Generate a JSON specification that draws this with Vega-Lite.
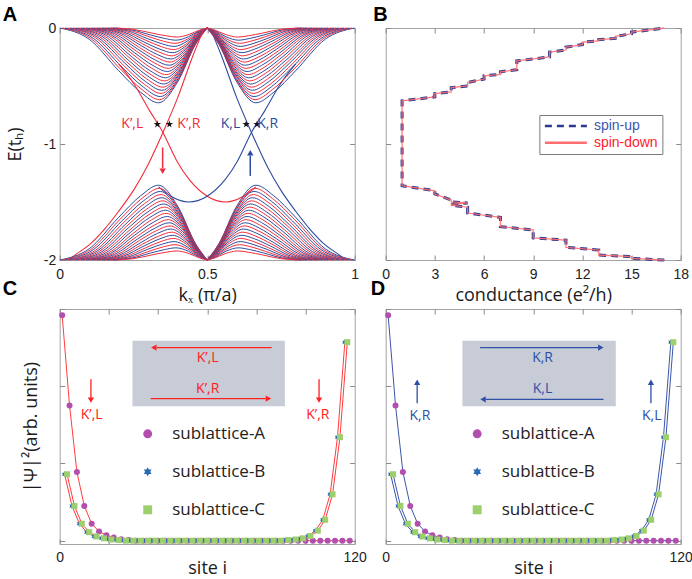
{
"$schema":"https://vega.github.io/schema/vega-lite/v6.json",
"background":"white",
"padding":{"left":1.7,"top":4,"right":0,"bottom":0},
"columns":2,
"spacing":{"row":49,"column":31},
"bounds":"flush",
"config":{
 "font":"Liberation Sans",
 "view":{"stroke":"#a3a3a3","strokeWidth":1},
 "axis":{"domain":false,"grid":false,"labelFlush":false,"tickColor":"#8a8a8a","tickSize":-5,"tickWidth":1,"labelFont":"Liberation Sans","labelFontSize":14,"labelColor":"#222","titleFont":"Open Sans","titleFontSize":18,"titleFontWeight":"normal","titleColor":"#1a1a1a"},
 "axisX":{"labelPadding":12,"titlePadding":5.5},
 "axisY":{"labelPadding":9,"titlePadding":19},
 "title":{"anchor":"start","frame":"group","font":"Liberation Sans","fontSize":20,"fontWeight":"bold","color":"#000","baseline":"alphabetic"}
},
"resolve":{"scale":{"color":"independent","shape":"independent"},"legend":{"color":"independent","shape":"independent"}},
"datasets":{
"bands":[
{"j":0,"c":"b","k":0,"E":0},{"j":0,"c":"b","k":0.1,"E":-0.097},{"j":0,"c":"b","k":0.2,"E":-0.368},{"j":0,"c":"b","k":0.275,"E":-0.555},{"j":0,"c":"b","k":0.335,"E":-0.645},{"j":0,"c":"b","k":0.4,"E":-0.464},{"j":0,"c":"b","k":0.46,"E":-0.142},{"j":0,"c":"b","k":0.5,"E":0},
{"j":1,"c":"r","k":0.009,"E":0},{"j":1,"c":"r","k":0.107,"E":-0.093},{"j":1,"c":"r","k":0.205,"E":-0.352},{"j":1,"c":"r","k":0.279,"E":-0.531},{"j":1,"c":"r","k":0.338,"E":-0.618},{"j":1,"c":"r","k":0.402,"E":-0.445},{"j":1,"c":"r","k":0.461,"E":-0.136},{"j":1,"c":"r","k":0.5,"E":0},
{"j":2,"c":"b","k":0.018,"E":0},{"j":2,"c":"b","k":0.114,"E":-0.089},{"j":2,"c":"b","k":0.211,"E":-0.337},{"j":2,"c":"b","k":0.283,"E":-0.508},{"j":2,"c":"b","k":0.341,"E":-0.591},{"j":2,"c":"b","k":0.404,"E":-0.426},{"j":2,"c":"b","k":0.461,"E":-0.13},{"j":2,"c":"b","k":0.5,"E":0},
{"j":3,"c":"r","k":0.027,"E":0},{"j":3,"c":"r","k":0.122,"E":-0.085},{"j":3,"c":"r","k":0.216,"E":-0.321},{"j":3,"c":"r","k":0.287,"E":-0.485},{"j":3,"c":"r","k":0.344,"E":-0.564},{"j":3,"c":"r","k":0.405,"E":-0.406},{"j":3,"c":"r","k":0.462,"E":-0.124},{"j":3,"c":"r","k":0.5,"E":0},
{"j":4,"c":"b","k":0.036,"E":0},{"j":4,"c":"b","k":0.129,"E":-0.081},{"j":4,"c":"b","k":0.222,"E":-0.306},{"j":4,"c":"b","k":0.291,"E":-0.462},{"j":4,"c":"b","k":0.347,"E":-0.537},{"j":4,"c":"b","k":0.407,"E":-0.387},{"j":4,"c":"b","k":0.463,"E":-0.118},{"j":4,"c":"b","k":0.5,"E":0},
{"j":5,"c":"r","k":0.045,"E":0},{"j":5,"c":"r","k":0.136,"E":-0.077},{"j":5,"c":"r","k":0.227,"E":-0.291},{"j":5,"c":"r","k":0.295,"E":-0.439},{"j":5,"c":"r","k":0.35,"E":-0.51},{"j":5,"c":"r","k":0.409,"E":-0.367},{"j":5,"c":"r","k":0.464,"E":-0.112},{"j":5,"c":"r","k":0.5,"E":0},
{"j":6,"c":"b","k":0.054,"E":0},{"j":6,"c":"b","k":0.143,"E":-0.072},{"j":6,"c":"b","k":0.232,"E":-0.275},{"j":6,"c":"b","k":0.299,"E":-0.415},{"j":6,"c":"b","k":0.353,"E":-0.483},{"j":6,"c":"b","k":0.411,"E":-0.348},{"j":6,"c":"b","k":0.464,"E":-0.106},{"j":6,"c":"b","k":0.5,"E":0},
{"j":7,"c":"r","k":0.063,"E":0},{"j":7,"c":"r","k":0.15,"E":-0.068},{"j":7,"c":"r","k":0.238,"E":-0.26},{"j":7,"c":"r","k":0.303,"E":-0.392},{"j":7,"c":"r","k":0.356,"E":-0.456},{"j":7,"c":"r","k":0.413,"E":-0.328},{"j":7,"c":"r","k":0.465,"E":-0.1},{"j":7,"c":"r","k":0.5,"E":0},
{"j":8,"c":"b","k":0.072,"E":0},{"j":8,"c":"b","k":0.158,"E":-0.064},{"j":8,"c":"b","k":0.243,"E":-0.245},{"j":8,"c":"b","k":0.307,"E":-0.369},{"j":8,"c":"b","k":0.359,"E":-0.429},{"j":8,"c":"b","k":0.414,"E":-0.309},{"j":8,"c":"b","k":0.466,"E":-0.094},{"j":8,"c":"b","k":0.5,"E":0},
{"j":9,"c":"r","k":0.081,"E":0},{"j":9,"c":"r","k":0.165,"E":-0.06},{"j":9,"c":"r","k":0.249,"E":-0.229},{"j":9,"c":"r","k":0.311,"E":-0.346},{"j":9,"c":"r","k":0.362,"E":-0.402},{"j":9,"c":"r","k":0.416,"E":-0.289},{"j":9,"c":"r","k":0.466,"E":-0.088},{"j":9,"c":"r","k":0.5,"E":0},
{"j":10,"c":"b","k":0.09,"E":0},{"j":10,"c":"b","k":0.172,"E":-0.056},{"j":10,"c":"b","k":0.254,"E":-0.214},{"j":10,"c":"b","k":0.316,"E":-0.323},{"j":10,"c":"b","k":0.365,"E":-0.375},{"j":10,"c":"b","k":0.418,"E":-0.27},{"j":10,"c":"b","k":0.467,"E":-0.083},{"j":10,"c":"b","k":0.5,"E":0},
{"j":11,"c":"r","k":0.099,"E":0},{"j":11,"c":"r","k":0.179,"E":-0.052},{"j":11,"c":"r","k":0.259,"E":-0.198},{"j":11,"c":"r","k":0.32,"E":-0.299},{"j":11,"c":"r","k":0.368,"E":-0.348},{"j":11,"c":"r","k":0.42,"E":-0.251},{"j":11,"c":"r","k":0.468,"E":-0.077},{"j":11,"c":"r","k":0.5,"E":0},
{"j":12,"c":"b","k":0.108,"E":0},{"j":12,"c":"b","k":0.186,"E":-0.048},{"j":12,"c":"b","k":0.265,"E":-0.183},{"j":12,"c":"b","k":0.324,"E":-0.276},{"j":12,"c":"b","k":0.371,"E":-0.321},{"j":12,"c":"b","k":0.422,"E":-0.231},{"j":12,"c":"b","k":0.469,"E":-0.071},{"j":12,"c":"b","k":0.5,"E":0},
{"j":13,"c":"r","k":0.117,"E":0},{"j":13,"c":"r","k":0.194,"E":-0.044},{"j":13,"c":"r","k":0.27,"E":-0.168},{"j":13,"c":"r","k":0.328,"E":-0.253},{"j":13,"c":"r","k":0.374,"E":-0.294},{"j":13,"c":"r","k":0.423,"E":-0.212},{"j":13,"c":"r","k":0.469,"E":-0.065},{"j":13,"c":"r","k":0.5,"E":0},
{"j":14,"c":"b","k":0.126,"E":0},{"j":14,"c":"b","k":0.201,"E":-0.04},{"j":14,"c":"b","k":0.276,"E":-0.152},{"j":14,"c":"b","k":0.332,"E":-0.23},{"j":14,"c":"b","k":0.377,"E":-0.267},{"j":14,"c":"b","k":0.425,"E":-0.192},{"j":14,"c":"b","k":0.47,"E":-0.059},{"j":14,"c":"b","k":0.5,"E":0},
{"j":15,"c":"r","k":0.135,"E":0},{"j":15,"c":"r","k":0.208,"E":-0.036},{"j":15,"c":"r","k":0.281,"E":-0.137},{"j":15,"c":"r","k":0.336,"E":-0.206},{"j":15,"c":"r","k":0.38,"E":-0.24},{"j":15,"c":"r","k":0.427,"E":-0.173},{"j":15,"c":"r","k":0.471,"E":-0.053},{"j":15,"c":"r","k":0.5,"E":0},
{"j":16,"c":"b","k":0.144,"E":0},{"j":16,"c":"b","k":0.215,"E":-0.032},{"j":16,"c":"b","k":0.286,"E":-0.121},{"j":16,"c":"b","k":0.34,"E":-0.183},{"j":16,"c":"b","k":0.383,"E":-0.213},{"j":16,"c":"b","k":0.429,"E":-0.153},{"j":16,"c":"b","k":0.472,"E":-0.047},{"j":16,"c":"b","k":0.5,"E":0},
{"j":17,"c":"r","k":0.153,"E":0},{"j":17,"c":"r","k":0.222,"E":-0.028},{"j":17,"c":"r","k":0.292,"E":-0.106},{"j":17,"c":"r","k":0.344,"E":-0.16},{"j":17,"c":"r","k":0.386,"E":-0.186},{"j":17,"c":"r","k":0.431,"E":-0.134},{"j":17,"c":"r","k":0.472,"E":-0.041},{"j":17,"c":"r","k":0.5,"E":0},
{"j":18,"c":"b","k":0.162,"E":0},{"j":18,"c":"b","k":0.23,"E":-0.024},{"j":18,"c":"b","k":0.297,"E":-0.091},{"j":18,"c":"b","k":0.348,"E":-0.137},{"j":18,"c":"b","k":0.388,"E":-0.159},{"j":18,"c":"b","k":0.432,"E":-0.114},{"j":18,"c":"b","k":0.473,"E":-0.035},{"j":18,"c":"b","k":0.5,"E":0},
{"j":19,"c":"r","k":0.171,"E":0},{"j":19,"c":"r","k":0.237,"E":-0.02},{"j":19,"c":"r","k":0.303,"E":-0.075},{"j":19,"c":"r","k":0.352,"E":-0.114},{"j":19,"c":"r","k":0.391,"E":-0.132},{"j":19,"c":"r","k":0.434,"E":-0.095},{"j":19,"c":"r","k":0.474,"E":-0.029},{"j":19,"c":"r","k":0.5,"E":0},
{"j":20,"c":"b","k":0.18,"E":0},{"j":20,"c":"b","k":0.244,"E":-0.016},{"j":20,"c":"b","k":0.308,"E":-0.06},{"j":20,"c":"b","k":0.356,"E":-0.09},{"j":20,"c":"b","k":0.394,"E":-0.105},{"j":20,"c":"b","k":0.436,"E":-0.076},{"j":20,"c":"b","k":0.474,"E":-0.023},{"j":20,"c":"b","k":0.5,"E":0},
{"j":21,"c":"r","k":0.189,"E":0},{"j":21,"c":"r","k":0.251,"E":-0.012},{"j":21,"c":"r","k":0.313,"E":-0.044},{"j":21,"c":"r","k":0.36,"E":-0.067},{"j":21,"c":"r","k":0.397,"E":-0.078},{"j":21,"c":"r","k":0.438,"E":-0.056},{"j":21,"c":"r","k":0.475,"E":-0.017},{"j":21,"c":"r","k":0.5,"E":0}
],
"edges":[
{"e":1,"c":"r","k":0.2,"E":-0.31},{"e":1,"c":"r","k":0.253,"E":-0.487},{"e":1,"c":"r","k":0.304,"E":-0.71},{"e":1,"c":"r","k":0.35,"E":-0.9},{"e":1,"c":"r","k":0.397,"E":-1.146},{"e":1,"c":"r","k":0.44,"E":-1.31},{"e":1,"c":"r","k":0.5,"E":-1.45},{"e":1,"c":"r","k":0.563,"E":-1.5},{"e":1,"c":"r","k":0.62,"E":-1.455},{"e":1,"c":"r","k":0.665,"E":-1.37},
{"e":2,"c":"r","k":0.03,"E":-2},{"e":2,"c":"r","k":0.05,"E":-1.96},{"e":2,"c":"r","k":0.1,"E":-1.87},{"e":2,"c":"r","k":0.15,"E":-1.74},{"e":2,"c":"r","k":0.2,"E":-1.58},{"e":2,"c":"r","k":0.25,"E":-1.4},{"e":2,"c":"r","k":0.295,"E":-1.2},{"e":2,"c":"r","k":0.35,"E":-0.9},{"e":2,"c":"r","k":0.4,"E":-0.6},{"e":2,"c":"r","k":0.45,"E":-0.25},{"e":2,"c":"r","k":0.49,"E":0},
{"e":3,"c":"b","k":0.51,"E":0},{"e":3,"c":"b","k":0.55,"E":-0.25},{"e":3,"c":"b","k":0.6,"E":-0.6},{"e":3,"c":"b","k":0.65,"E":-0.9},{"e":3,"c":"b","k":0.705,"E":-1.2},{"e":3,"c":"b","k":0.75,"E":-1.4},{"e":3,"c":"b","k":0.8,"E":-1.58},{"e":3,"c":"b","k":0.85,"E":-1.74},{"e":3,"c":"b","k":0.9,"E":-1.87},{"e":3,"c":"b","k":0.95,"E":-1.96},{"e":3,"c":"b","k":0.97,"E":-2},
{"e":4,"c":"b","k":0.335,"E":-1.37},{"e":4,"c":"b","k":0.38,"E":-1.455},{"e":4,"c":"b","k":0.437,"E":-1.5},{"e":4,"c":"b","k":0.5,"E":-1.45},{"e":4,"c":"b","k":0.56,"E":-1.31},{"e":4,"c":"b","k":0.603,"E":-1.146},{"e":4,"c":"b","k":0.65,"E":-0.9},{"e":4,"c":"b","k":0.696,"E":-0.71},{"e":4,"c":"b","k":0.747,"E":-0.487},{"e":4,"c":"b","k":0.8,"E":-0.31}
],
"cond":[
{"G":17,"E":0},{"G":15,"E":-0.036},{"G":15,"E":-0.05},{"G":14,"E":-0.072},{"G":14,"E":-0.09},{"G":13,"E":-0.1},{"G":13,"E":-0.112},{"G":12,"E":-0.122},{"G":12,"E":-0.143},{"G":11,"E":-0.165},{"G":11,"E":-0.19},{"G":10,"E":-0.208},{"G":10,"E":-0.25},{"G":8,"E":-0.284},{"G":8,"E":-0.36},{"G":7,"E":-0.377},{"G":7,"E":-0.4},{"G":6,"E":-0.412},{"G":6,"E":-0.44},{"G":5,"E":-0.47},{"G":5,"E":-0.5},{"G":4,"E":-0.514},{"G":4,"E":-0.551},{"G":3,"E":-0.565},{"G":3,"E":-0.594},{"G":1,"E":-0.628},{"G":1,"E":-1.36},{"G":3,"E":-1.403},{"G":3,"E":-1.431},{"G":4,"E":-1.483},{"G":4,"E":-1.5},{"G":5,"E":-1.508},{"G":4,"E":-1.52},{"G":4,"E":-1.527},{"G":5,"E":-1.545},{"G":5,"E":-1.595},{"G":7,"E":-1.632},{"G":7,"E":-1.713},{"G":9,"E":-1.741},{"G":9,"E":-1.81},{"G":11,"E":-1.828},{"G":11,"E":-1.891},{"G":13,"E":-1.914},{"G":13,"E":-1.957},{"G":15,"E":-1.971},{"G":15,"E":-1.986},{"G":17,"E":-2}
],
"psi":[
{"s":"A","i":1,"v":2.92},{"s":"A","i":4,"v":1.75},{"s":"A","i":7,"v":0.89},{"s":"A","i":10,"v":0.45},{"s":"A","i":13,"v":0.22},{"s":"A","i":16,"v":0.12},{"s":"A","i":19,"v":0.07},{"s":"A","i":22,"v":0.04},{"s":"A","i":25,"v":0.02},{"s":"A","i":28,"v":0.01},{"s":"A","i":31,"v":0},{"s":"A","i":34,"v":0},{"s":"A","i":37,"v":0},{"s":"A","i":40,"v":0},{"s":"A","i":43,"v":0},{"s":"A","i":46,"v":0},{"s":"A","i":49,"v":0},{"s":"A","i":52,"v":0},{"s":"A","i":55,"v":0},{"s":"A","i":58,"v":0},{"s":"A","i":61,"v":0},{"s":"A","i":64,"v":0},{"s":"A","i":67,"v":0},{"s":"A","i":70,"v":0},{"s":"A","i":73,"v":0},{"s":"A","i":76,"v":0},{"s":"A","i":79,"v":0},{"s":"A","i":82,"v":0},{"s":"A","i":85,"v":0},{"s":"A","i":88,"v":0},{"s":"A","i":91,"v":0},{"s":"A","i":94,"v":0},{"s":"A","i":97,"v":0},{"s":"A","i":100,"v":0},{"s":"A","i":103,"v":0},{"s":"A","i":106,"v":0},{"s":"A","i":109,"v":0},{"s":"A","i":112,"v":0},{"s":"A","i":115,"v":0},{"s":"A","i":118,"v":0},
{"s":"B","i":2,"v":0.86},{"s":"B","i":5,"v":0.45},{"s":"B","i":8,"v":0.22},{"s":"B","i":11,"v":0.11},{"s":"B","i":14,"v":0.055},{"s":"B","i":17,"v":0.03},{"s":"B","i":20,"v":0.015},{"s":"B","i":23,"v":0.008},{"s":"B","i":26,"v":0},{"s":"B","i":29,"v":0},{"s":"B","i":32,"v":0},{"s":"B","i":35,"v":0},{"s":"B","i":38,"v":0},{"s":"B","i":41,"v":0},{"s":"B","i":44,"v":0},{"s":"B","i":47,"v":0},{"s":"B","i":50,"v":0},{"s":"B","i":53,"v":0},{"s":"B","i":56,"v":0},{"s":"B","i":59,"v":0},{"s":"B","i":62,"v":0},{"s":"B","i":65,"v":0},{"s":"B","i":68,"v":0},{"s":"B","i":71,"v":0},{"s":"B","i":74,"v":0},{"s":"B","i":77,"v":0},{"s":"B","i":80,"v":0},{"s":"B","i":83,"v":0},{"s":"B","i":86,"v":0},{"s":"B","i":89,"v":0},{"s":"B","i":92,"v":0.008},{"s":"B","i":95,"v":0.015},{"s":"B","i":98,"v":0.03},{"s":"B","i":101,"v":0.06},{"s":"B","i":104,"v":0.13},{"s":"B","i":107,"v":0.27},{"s":"B","i":110,"v":0.6},{"s":"B","i":113,"v":1.34},{"s":"B","i":116,"v":2.57},
{"s":"C","i":3,"v":0.86},{"s":"C","i":6,"v":0.45},{"s":"C","i":9,"v":0.22},{"s":"C","i":12,"v":0.11},{"s":"C","i":15,"v":0.055},{"s":"C","i":18,"v":0.03},{"s":"C","i":21,"v":0.015},{"s":"C","i":24,"v":0.008},{"s":"C","i":27,"v":0},{"s":"C","i":30,"v":0},{"s":"C","i":33,"v":0},{"s":"C","i":36,"v":0},{"s":"C","i":39,"v":0},{"s":"C","i":42,"v":0},{"s":"C","i":45,"v":0},{"s":"C","i":48,"v":0},{"s":"C","i":51,"v":0},{"s":"C","i":54,"v":0},{"s":"C","i":57,"v":0},{"s":"C","i":60,"v":0},{"s":"C","i":63,"v":0},{"s":"C","i":66,"v":0},{"s":"C","i":69,"v":0},{"s":"C","i":72,"v":0},{"s":"C","i":75,"v":0},{"s":"C","i":78,"v":0},{"s":"C","i":81,"v":0},{"s":"C","i":84,"v":0},{"s":"C","i":87,"v":0},{"s":"C","i":90,"v":0},{"s":"C","i":93,"v":0.008},{"s":"C","i":96,"v":0.015},{"s":"C","i":99,"v":0.03},{"s":"C","i":102,"v":0.06},{"s":"C","i":105,"v":0.13},{"s":"C","i":108,"v":0.27},{"s":"C","i":111,"v":0.6},{"s":"C","i":114,"v":1.34},{"s":"C","i":117,"v":2.57}
]
},
"concat":[
{
 "width":295,"height":232,
 "title":{"text":"A","dx":-57,"offset":-3.5},
 "resolve":{"scale":{"x":"independent","y":"independent"}},
 "layer":[
  {"layer":[
   {"data":{"name":"bands"},"mark":{"type":"line","interpolate":"monotone","strokeWidth":1},
    "encoding":{"x":{"field":"k","type":"quantitative","scale":{"domain":[0,1],"nice":false},"axis":{"values":[0,0.5,1],"labelExpr":"''+datum.value","title":"kₓ (π/a)"}},
     "y":{"field":"E","type":"quantitative","scale":{"domain":[-2,0],"nice":false},"axis":{"values":[-2,-1,0],"labelExpr":"''+datum.value","title":"E(tₕ)"}},
     "color":{"field":"c","type":"nominal","scale":{"domain":["r","b"],"range":["#f22b3a","#2d4b9e"]},"legend":null},
     "detail":{"field":"j","type":"nominal"}}},
   {"data":{"name":"edges"},"mark":{"type":"line","interpolate":"monotone","strokeWidth":1.1},
    "encoding":{"x":{"field":"k","type":"quantitative"},"y":{"field":"E","type":"quantitative"},"color":{"field":"c","type":"nominal","legend":null},"detail":{"field":"e","type":"nominal"}}},
   {"mark":{"type":"rule","color":"#8f8f8f","strokeDash":[7,5],"strokeWidth":1.2},"encoding":{"y":{"datum":-0.83,"type":"quantitative"}}},
   {"data":{"values":[{"k":0.331,"E":-0.83},{"k":0.372,"E":-0.83},{"k":0.632,"E":-0.83},{"k":0.669,"E":-0.83}]},
    "mark":{"type":"point","shape":"M0,-1L0.225,-0.309L0.951,-0.309L0.363,0.118L0.588,0.809L0,0.382L-0.588,0.809L-0.363,0.118L-0.951,-0.309L-0.225,-0.309Z","filled":true,"color":"#111","size":60,"opacity":1},
    "encoding":{"x":{"field":"k","type":"quantitative"},"y":{"field":"E","type":"quantitative"}}},
   {"data":{"values":[{"k":0.246,"E":-0.83,"t":"K’,L","c":"r"},{"k":0.438,"E":-0.83,"t":"K’,R","c":"r"},{"k":0.579,"E":-0.83,"t":"K,L","c":"b"},{"k":0.705,"E":-0.83,"t":"K,R","c":"b"}]},
    "mark":{"type":"text","font":"Open Sans","fontSize":14},
    "encoding":{"x":{"field":"k","type":"quantitative"},"y":{"field":"E","type":"quantitative"},"text":{"field":"t"},"color":{"field":"c","type":"nominal","legend":null}}},
   {"data":{"values":[{"k":0.349,"E":-1.03,"E2":-1.21,"c":"r"},{"k":0.646,"E":-1.275,"E2":-1.1,"c":"b"}]},
    "mark":{"type":"rule","strokeWidth":1.5},
    "encoding":{"x":{"field":"k","type":"quantitative"},"y":{"field":"E","type":"quantitative"},"y2":{"field":"E2"},"color":{"field":"c","type":"nominal","legend":null}}},
   {"data":{"values":[{"k":0.349,"E":-1.235,"sh":"triangle-down","c":"r"},{"k":0.646,"E":-1.075,"sh":"triangle-up","c":"b"}]},
    "mark":{"type":"point","filled":true,"size":40,"opacity":1},
    "encoding":{"x":{"field":"k","type":"quantitative"},"y":{"field":"E","type":"quantitative"},"shape":{"field":"sh","type":"nominal","scale":null},"color":{"field":"c","type":"nominal","legend":null}}}
  ]},
  {"data":{"name":"bands"},"mark":{"type":"line","interpolate":"monotone","strokeWidth":1},
   "encoding":{"x":{"field":"k","type":"quantitative","scale":{"domain":[0,1],"nice":false,"reverse":true},"axis":{"orient":"top","labels":false,"title":null,"values":[0,0.5,1]}},
    "y":{"field":"E","type":"quantitative","scale":{"domain":[-2,0],"nice":false},"axis":{"orient":"right","labels":false,"title":null,"values":[-2,-1,0]}},
    "color":{"field":"c","type":"nominal","legend":null},"detail":{"field":"j","type":"nominal"}}},
  {"data":{"name":"bands"},"mark":{"type":"line","interpolate":"monotone","strokeWidth":1},
   "encoding":{"x":{"field":"k","type":"quantitative","scale":{"domain":[0,1],"nice":false},"axis":null},
    "y":{"field":"E","type":"quantitative","scale":{"domain":[-2,0],"nice":false,"reverse":true},"axis":null},
    "color":{"field":"c","type":"nominal","legend":null},"detail":{"field":"j","type":"nominal"}}},
  {"data":{"name":"bands"},"mark":{"type":"line","interpolate":"monotone","strokeWidth":1},
   "encoding":{"x":{"field":"k","type":"quantitative","scale":{"domain":[0,1],"nice":false,"reverse":true},"axis":null},
    "y":{"field":"E","type":"quantitative","scale":{"domain":[-2,0],"nice":false,"reverse":true},"axis":null},
    "color":{"field":"c","type":"nominal","legend":null},"detail":{"field":"j","type":"nominal"}}}
 ]
},
{
 "width":295,"height":232,
 "title":{"text":"B","dx":-12.5,"offset":-2.5},
 "data":{"name":"cond"},
 "resolve":{"axis":{"x":"independent","y":"independent"}},
 "layer":[
  {"mark":{"type":"line","strokeWidth":3,"strokeDash":[7,5]},
   "encoding":{"x":{"field":"G","type":"quantitative","scale":{"domain":[0,18],"nice":false},"axis":{"values":[0,3,6,9,12,15,18],"title":"conductance (e²/h)"}},
    "y":{"field":"E","type":"quantitative","scale":{"domain":[-2,0],"nice":false},"axis":{"values":[-2,-1,0],"labels":false,"title":null}},
    "order":{"field":"E","type":"quantitative"},
    "color":{"datum":"spin-up","type":"nominal","scale":{"domain":["spin-up","spin-down"],"range":["#2b3a92","#ff6f6f"]},
     "legend":{"orient":"none","legendX":153.7,"legendY":87,"title":null,"fillColor":"#ffffff","strokeColor":"#7a7a7a","padding":4,"symbolType":"stroke","symbolSize":1764,"symbolStrokeWidth":2.5,"clipHeight":14,"labelFont":"Liberation Sans","labelFontSize":14,"labelOffset":5.5,"rowPadding":2.7,
      "encode":{"labels":{"update":{"fill":{"signal":"datum.value==='spin-up'?'#3a55b0':'#ff2030'"}}},"symbols":{"update":{"strokeDash":{"signal":"datum.value==='spin-up'?[7,5]:[1,0]"}}}}}}}},
  {"mark":{"type":"line","strokeWidth":1.3,"opacity":0.9},
   "encoding":{"x":{"field":"G","type":"quantitative","axis":{"orient":"top","labels":false,"title":null,"values":[0,3,6,9,12,15,18]}},
    "y":{"field":"E","type":"quantitative","axis":{"orient":"right","labels":false,"title":null,"values":[-2,-1,0]}},
    "order":{"field":"E","type":"quantitative"},
    "color":{"datum":"spin-down","type":"nominal"}}}
 ]
},
{
 "width":295,"height":235,
 "title":{"text":"C","dx":-57,"offset":9},
 "resolve":{"axis":{"x":"independent","y":"independent"}},
 "layer":[
  {"layer":[
   {"data":{"values":[{"a":29.6,"b":91.6,"lo":1.74,"hi":2.59}]},"mark":{"type":"rect","color":"#c8ccd6"},
    "encoding":{"x":{"field":"a","type":"quantitative","scale":{"domain":[0,120],"nice":false},"axis":{"values":[0,20,40,60,80,100,120],"labelExpr":"datum.value==0||datum.value==120?datum.label:''","title":"site i","titlePadding":-5}},
     "x2":{"field":"b"},
     "y":{"field":"lo","type":"quantitative","scale":{"domain":[-0.043,3],"nice":false,"zero":false},"axis":{"values":[0,1,2,3],"labels":false,"title":"|Ψ|²(arb. units)"}},
     "y2":{"field":"hi"}}},
   {"data":{"name":"psi"},"mark":{"type":"line","color":"#ff3b3b","strokeWidth":1},
    "encoding":{"x":{"field":"i","type":"quantitative"},"y":{"field":"v","type":"quantitative"},"detail":{"field":"s","type":"nominal"}}},
   {"data":{"name":"psi"},"mark":{"type":"point","filled":true,"opacity":1,"size":36},
    "encoding":{"x":{"field":"i","type":"quantitative"},"y":{"field":"v","type":"quantitative"},
     "color":{"field":"s","type":"nominal","scale":{"domain":["A","B","C"],"range":["#b24fae","#2a6cb3","#9dcf6d"]},"legend":{"orient":"none","legendX":79.5,"legendY":116.3,"title":null,"labelExpr":"'sublattice-'+datum.label","labelFont":"Open Sans","labelFontSize":17,"labelColor":"#222","symbolSize":80,"rowPadding":20,"labelOffset":16,"padding":0,"symbolStrokeWidth":0}},
     "shape":{"field":"s","type":"nominal","scale":{"domain":["A","B","C"],"range":["circle","M0,-1L0.289,-0.5L0.866,-0.5L0.577,0L0.866,0.5L0.289,0.5L0,1L-0.289,0.5L-0.866,0.5L-0.577,0L-0.866,-0.5L-0.289,-0.5Z","square"]},"legend":{"orient":"none","legendX":79.5,"legendY":116.3,"title":null,"labelExpr":"'sublattice-'+datum.label","labelFont":"Open Sans","labelFontSize":17,"labelColor":"#222","symbolSize":80,"rowPadding":20,"labelOffset":16,"padding":0,"symbolStrokeWidth":0}}}},
   {"data":{"values":[{"x":86.2,"x2":39.5,"y":2.5,"y2":2.5},{"x":37,"x2":83.7,"y":1.84,"y2":1.84},{"x":12.7,"x2":12.7,"y":2.09,"y2":1.84},{"x":105.5,"x2":105.5,"y":2.09,"y2":1.84}]},
    "mark":{"type":"rule","color":"#ff2020","strokeWidth":1.3},
    "encoding":{"x":{"field":"x","type":"quantitative"},"x2":{"field":"x2"},"y":{"field":"y","type":"quantitative"},"y2":{"field":"y2"}}},
   {"data":{"values":[{"x":38.3,"y":2.5,"sh":"triangle-left"},{"x":84.9,"y":1.84,"sh":"triangle-right"},{"x":12.7,"y":1.82,"sh":"triangle-down"},{"x":105.5,"y":1.82,"sh":"triangle-down"}]},
    "mark":{"type":"point","filled":true,"color":"#ff2020","size":40,"opacity":1},
    "encoding":{"x":{"field":"x","type":"quantitative"},"y":{"field":"y","type":"quantitative"},"shape":{"field":"sh","type":"nominal","scale":null}}},
   {"data":{"values":[{"x":60.2,"y":2.36,"t":"K’,L"},{"x":60.2,"y":1.96,"t":"K’,R"},{"x":13,"y":1.63,"t":"K’,L"},{"x":105,"y":1.63,"t":"K’,R"}]},
    "mark":{"type":"text","color":"#ff2020","font":"Open Sans","fontSize":14},
    "encoding":{"x":{"field":"x","type":"quantitative"},"y":{"field":"y","type":"quantitative"},"text":{"field":"t"}}}
  ]},
  {"data":{"values":[{}]},"mark":{"type":"point","opacity":0},
   "encoding":{"x":{"datum":0,"type":"quantitative","axis":{"orient":"top","labels":false,"title":null,"values":[0,20,40,60,80,100,120]}},
    "y":{"datum":0,"type":"quantitative","axis":{"orient":"right","labels":false,"title":null,"values":[0,1,2,3]}}}}
 ]
},
{
 "width":295,"height":235,
 "title":{"text":"D","dx":-15,"offset":9},
 "resolve":{"axis":{"x":"independent","y":"independent"}},
 "layer":[
  {"layer":[
   {"data":{"values":[{"a":31.2,"b":93.6,"lo":1.74,"hi":2.59}]},"mark":{"type":"rect","color":"#c8ccd6"},
    "encoding":{"x":{"field":"a","type":"quantitative","scale":{"domain":[0,120],"nice":false},"axis":{"values":[0,20,40,60,80,100,120],"labelExpr":"datum.value==0||datum.value==120?datum.label:''","title":"site i","titlePadding":-5}},
     "x2":{"field":"b"},
     "y":{"field":"lo","type":"quantitative","scale":{"domain":[-0.043,3],"nice":false,"zero":false},"axis":{"values":[0,1,2,3],"labels":false,"title":null}},
     "y2":{"field":"hi"}}},
   {"data":{"name":"psi"},"mark":{"type":"line","color":"#3a55a8","strokeWidth":1},
    "encoding":{"x":{"field":"i","type":"quantitative"},"y":{"field":"v","type":"quantitative"},"detail":{"field":"s","type":"nominal"}}},
   {"data":{"name":"psi"},"mark":{"type":"point","filled":true,"opacity":1,"size":36},
    "encoding":{"x":{"field":"i","type":"quantitative"},"y":{"field":"v","type":"quantitative"},
     "color":{"field":"s","type":"nominal","scale":{"domain":["A","B","C"],"range":["#b24fae","#2a6cb3","#9dcf6d"]},"legend":{"orient":"none","legendX":83,"legendY":116.3,"title":null,"labelExpr":"'sublattice-'+datum.label","labelFont":"Open Sans","labelFontSize":17,"labelColor":"#222","symbolSize":80,"rowPadding":20,"labelOffset":16,"padding":0,"symbolStrokeWidth":0}},
     "shape":{"field":"s","type":"nominal","scale":{"domain":["A","B","C"],"range":["circle","M0,-1L0.289,-0.5L0.866,-0.5L0.577,0L0.866,0.5L0.289,0.5L0,1L-0.289,0.5L-0.866,0.5L-0.577,0L-0.866,-0.5L-0.289,-0.5Z","square"]},"legend":{"orient":"none","legendX":83,"legendY":116.3,"title":null,"labelExpr":"'sublattice-'+datum.label","labelFont":"Open Sans","labelFontSize":17,"labelColor":"#222","symbolSize":80,"rowPadding":20,"labelOffset":16,"padding":0,"symbolStrokeWidth":0}}}},
   {"data":{"values":[{"x":38.4,"x2":86.5,"y":2.5,"y2":2.5},{"x":88.6,"x2":40.6,"y":1.83,"y2":1.83},{"x":12.8,"x2":12.8,"y":1.78,"y2":2.03},{"x":107.9,"x2":107.9,"y":1.78,"y2":2.03}]},
    "mark":{"type":"rule","color":"#2f4fa8","strokeWidth":1.3},
    "encoding":{"x":{"field":"x","type":"quantitative"},"x2":{"field":"x2"},"y":{"field":"y","type":"quantitative"},"y2":{"field":"y2"}}},
   {"data":{"values":[{"x":87.5,"y":2.5,"sh":"triangle-right"},{"x":39.6,"y":1.83,"sh":"triangle-left"},{"x":12.8,"y":2.05,"sh":"triangle-up"},{"x":107.9,"y":2.05,"sh":"triangle-up"}]},
    "mark":{"type":"point","filled":true,"color":"#2f4fa8","size":40,"opacity":1},
    "encoding":{"x":{"field":"x","type":"quantitative"},"y":{"field":"y","type":"quantitative"},"shape":{"field":"sh","type":"nominal","scale":null}}},
   {"data":{"values":[{"x":63.8,"y":2.36,"t":"K,R"},{"x":63.8,"y":1.97,"t":"K,L"},{"x":13.9,"y":1.61,"t":"K,R"},{"x":108.2,"y":1.61,"t":"K,L"}]},
    "mark":{"type":"text","color":"#2f4fa8","font":"Open Sans","fontSize":14},
    "encoding":{"x":{"field":"x","type":"quantitative"},"y":{"field":"y","type":"quantitative"},"text":{"field":"t"}}}
  ]},
  {"data":{"values":[{}]},"mark":{"type":"point","opacity":0},
   "encoding":{"x":{"datum":0,"type":"quantitative","axis":{"orient":"top","labels":false,"title":null,"values":[0,20,40,60,80,100,120]}},
    "y":{"datum":0,"type":"quantitative","axis":{"orient":"right","labels":false,"title":null,"values":[0,1,2,3]}}}}
 ]
}
]
}
